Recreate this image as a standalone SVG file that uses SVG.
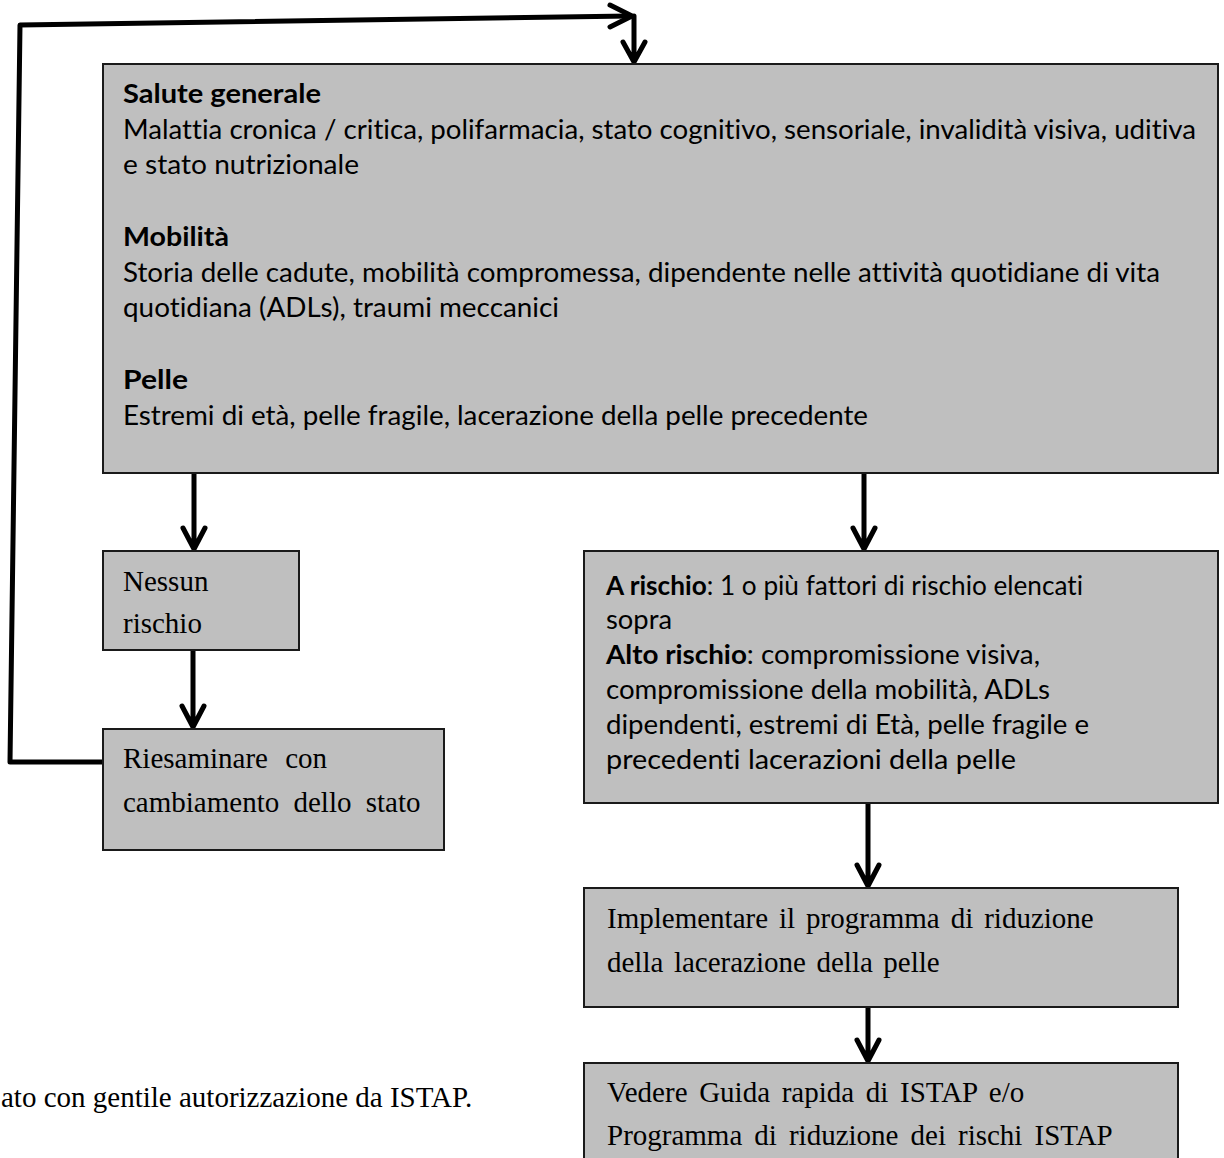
<svg xmlns="http://www.w3.org/2000/svg" width="1224" height="1158" viewBox="0 0 1224 1158">
<defs>
<style>
.box{fill:#bfbfbf;stroke:#1a1a1a;stroke-width:2}
.sans{font-family:Lato,"Open Sans","Noto Sans",sans-serif;font-size:27px;fill:#000;font-variant-ligatures:none}
.b{font-weight:bold}
.serif{font-family:"Liberation Serif","Times New Roman",serif;font-size:29px;fill:#000}
.conn{fill:none;stroke:#000;stroke-width:5;stroke-linecap:round;stroke-linejoin:round}
</style>
</defs>
<rect width="1224" height="1158" fill="#fff"/>
<g id="connectors">
<path class="conn" d="M103,762 L10,762 L20,25 L630,16"/>
<path class="conn" d="M610,5 L632,16 L610,27"/>
<path class="conn" d="M634,16 L634,62 M623,42 L634,62 L645,42"/>
<path class="conn" d="M194,473 L194,549 M183,528 L194,549 L205,528"/>
<path class="conn" d="M864,473 L864,549 M853,528 L864,549 L875,528"/>
<path class="conn" d="M193,650 L193,727 M182,706 L193,727 L204,706"/>
<path class="conn" d="M868,803 L868,886 M857,865 L868,886 L879,865"/>
<path class="conn" d="M868,1007 L868,1061 M857,1040 L868,1061 L879,1040"/>
</g>
<g id="main">
<rect class="box" x="103" y="64" width="1115" height="409"/>
<text class="sans b" x="123" y="103" textLength="198" lengthAdjust="spacingAndGlyphs">Salute generale</text>
<text class="sans" x="123" y="139" textLength="1073" lengthAdjust="spacingAndGlyphs">Malattia cronica / critica, polifarmacia, stato cognitivo, sensoriale, invalidità visiva, uditiva</text>
<text class="sans" x="123" y="174" textLength="236" lengthAdjust="spacingAndGlyphs">e stato nutrizionale</text>
<text class="sans b" x="123" y="246" textLength="106" lengthAdjust="spacingAndGlyphs">Mobilità</text>
<text class="sans" x="123" y="282" textLength="1037" lengthAdjust="spacingAndGlyphs">Storia delle cadute, mobilità compromessa, dipendente nelle attività quotidiane di vita</text>
<text class="sans" x="123" y="317" textLength="436" lengthAdjust="spacingAndGlyphs">quotidiana (ADLs), traumi meccanici</text>
<text class="sans b" x="123" y="389" textLength="65" lengthAdjust="spacingAndGlyphs">Pelle</text>
<text class="sans" x="123" y="425" textLength="745" lengthAdjust="spacingAndGlyphs">Estremi di età, pelle fragile, lacerazione della pelle precedente</text>
</g>
<g id="nessun">
<rect class="box" x="103" y="551" width="196" height="99"/>
<text class="serif" x="123" y="591">Nessun</text>
<text class="serif" x="123" y="633">rischio</text>
</g>
<g id="riesaminare">
<rect class="box" x="103" y="729" width="341" height="121"/>
<text class="serif" x="123" y="768" word-spacing="10">Riesaminare con</text>
<text class="serif" x="123" y="812" word-spacing="7">cambiamento dello stato</text>
</g>
<g id="arischio">
<rect class="box" x="584" y="551" width="634" height="252"/>
<text class="sans" x="606" y="595" textLength="477" lengthAdjust="spacingAndGlyphs"><tspan class="b">A rischio</tspan>: 1 o più fattori di rischio elencati</text>
<text class="sans" x="606" y="629" textLength="66" lengthAdjust="spacingAndGlyphs">sopra</text>
<text class="sans" x="606" y="664" textLength="434" lengthAdjust="spacingAndGlyphs"><tspan class="b">Alto rischio</tspan>: compromissione visiva,</text>
<text class="sans" x="606" y="699" textLength="444" lengthAdjust="spacingAndGlyphs">compromissione della mobilità, ADLs</text>
<text class="sans" x="606" y="734" textLength="483" lengthAdjust="spacingAndGlyphs">dipendenti, estremi di Età, pelle fragile e</text>
<text class="sans" x="606" y="769" textLength="410" lengthAdjust="spacingAndGlyphs">precedenti lacerazioni della pelle</text>
</g>
<g id="implementare">
<rect class="box" x="584" y="888" width="594" height="119"/>
<text class="serif" x="607" y="928" word-spacing="3.7">Implementare il programma di riduzione</text>
<text class="serif" x="607" y="972" word-spacing="3.3">della lacerazione della pelle</text>
</g>
<g id="vedere">
<rect class="box" x="584" y="1063" width="594" height="110"/>
<text class="serif" x="607" y="1102" word-spacing="4.4">Vedere Guida rapida di ISTAP e/o</text>
<text class="serif" x="607" y="1145" word-spacing="4.8">Programma di riduzione dei rischi ISTAP</text>
</g>
<g id="footer">
<text class="serif" x="1" y="1107">ato con gentile autorizzazione da ISTAP.</text>
</g>
</svg>
